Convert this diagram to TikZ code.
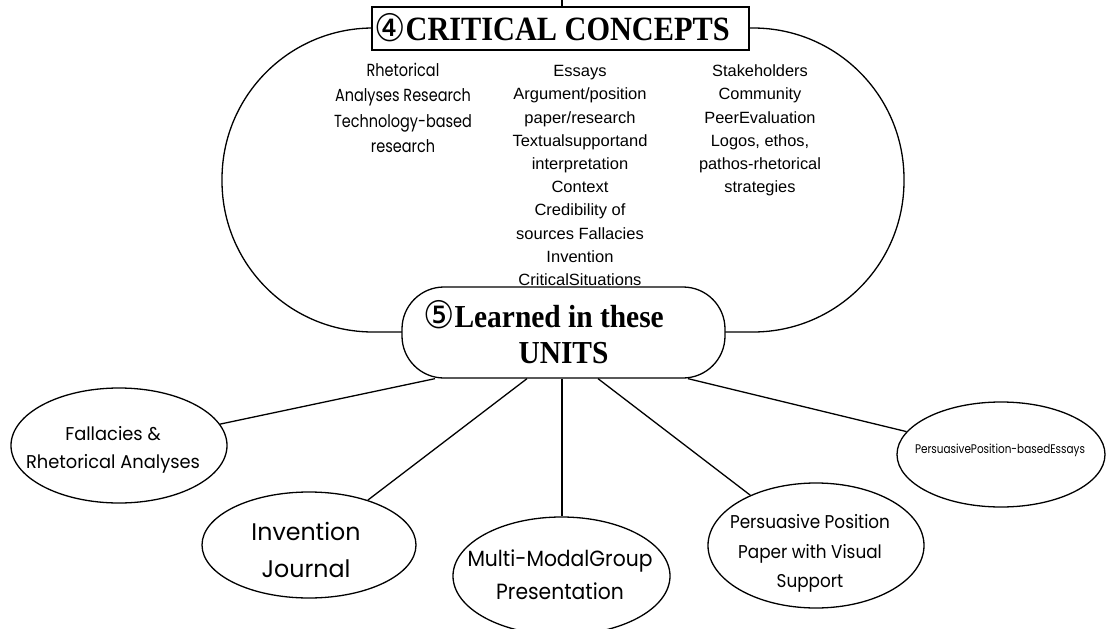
\documentclass[tikz,border=0pt]{standalone}
\usepackage{fontspec}
\usepackage{graphicx}
\usetikzlibrary{shapes.geometric,calc}
\setmainfont{Liberation Serif}
\newfontfamily\arialf{Liberation Sans}
\newfontfamily\comicf{Poppins}
\newfontfamily\dejavuf{DejaVu Sans}
\newcommand{\fitw}[2]{\resizebox{#1}{\height}{\begin{tabular}{@{}c@{}}#2\end{tabular}}}
\newcommand{\circnum}[2]{\raisebox{#2}{\scalebox{0.92}[1]{\dejavuf\mdseries\fontsize{38pt}{38pt}\selectfont #1}}}
\tikzset{
  ln/.style={line width=1.3pt, black},
  ell/.style={ellipse, draw, line width=1.3pt, fill=white, inner sep=0pt},
  txt/.style={inner sep=0pt, outer sep=0pt},
  title/.style={draw, line width=1.3pt, fill=white, inner sep=0pt,
    font=\bfseries\fontsize{34pt}{36pt}\selectfont},
}
\begin{document}
\begin{tikzpicture}[x=1pt,y=-1pt]
\useasboundingbox (0,0) rectangle (1120,629);
% outer stadium
\draw[ln, rounded corners=151pt] (222,28) rectangle (904,332);
% title box
\node[title, minimum width=377pt, minimum height=43pt, text height=24pt, text depth=0pt] (cc) at (560.5,28.5)
  {\circnum{④}{-1pt}\resizebox{324pt}{\height}{CRITICAL CONCEPTS}\hspace*{17pt}};
\coordinate (topend) at (562,0);
\draw[ln] (topend) -- (topend |- cc.north);
% columns
\node[txt, font=\comicf\fontsize{17.5pt}{25pt}\selectfont] (colL) at (403,109.5)
  {\fitw{138pt}{Rhetorical\\Analyses Research\\Technology-based\\research}};
\node[txt, font=\arialf\fontsize{16.3pt}{23.2pt}\selectfont] (colM) at (580,176.5)
  {\fitw{135pt}{Essays\\Argument/position\\paper/research\\Textualsupportand\\interpretation\\Context\\Credibility of\\sources Fallacies\\Invention\\CriticalSituations}};
\node[txt, font=\arialf\fontsize{16.3pt}{23.2pt}\selectfont] (colR) at (760,130)
  {\fitw{122pt}{Stakeholders\\Community\\PeerEvaluation\\Logos, ethos,\\pathos-rhetorical\\strategies}};
% learned node
\node[draw, line width=1.3pt, fill=white, rounded corners=42pt, inner sep=0pt,
  minimum width=323pt, minimum height=91pt, align=center,
  font=\bfseries\fontsize{32pt}{36pt}\selectfont] (learn) at (563.5,332.5)
  {\circnum{⑤}{-1pt}\scalebox{0.92}[1]{Learned in these}\hspace*{40pt}\\\scalebox{0.92}[1]{UNITS}};
% unit ellipses
\node[ell, minimum width=216pt, minimum height=115pt] (fal) at (119,445.5) {};
\node[txt, font=\comicf\fontsize{18.5pt}{28pt}\selectfont] (faltx) at (113,449)
  {\fitw{174pt}{Fallacies \&\\Rhetorical Analyses}};
\node[ell, minimum width=214pt, minimum height=106pt] (inv) at (309,545) {};
\node[txt, font=\comicf\fontsize{24pt}{37pt}\selectfont] (invtx) at (306,551.5)
  {\fitw{109pt}{Invention\\Journal}};
\node[ell, minimum width=217pt, minimum height=118pt] (mul) at (561.5,576) {};
\node[txt, font=\comicf\fontsize{22pt}{33pt}\selectfont] (multx) at (560,576.5)
  {\fitw{185pt}{Multi-ModalGroup\\Presentation}};
\node[ell, minimum width=216pt, minimum height=125pt] (pap) at (816,545.5) {};
\node[txt, font=\comicf\fontsize{18.5pt}{29.5pt}\selectfont] (paptx) at (810,552.5)
  {\fitw{160pt}{Persuasive Position\\Paper with Visual\\Support}};
\node[ell, minimum width=208pt, minimum height=105pt] (ppe) at (1001,454.5) {};
\node[txt, font=\comicf\fontsize{12.5pt}{15pt}\selectfont] (ppetx) at (1000,450)
  {\fitw{170pt}{PersuasivePosition-basedEssays}};
% connectors
\coordinate (b1) at ($(learn.south)+(-128.5,0)$);
\coordinate (b2) at ($(learn.south)+(-36.5,0)$);
\coordinate (b3) at ($(learn.south)+(-1.5,0)$);
\coordinate (b4) at ($(learn.south)+(34.5,0)$);
\coordinate (b5) at ($(learn.south)+(124.5,0)$);
\draw[ln] (b1) -- (fal);
\draw[ln] (b2) -- (inv);
\draw[ln] (b3) -- (b3 |- mul.north);
\draw[ln] (b4) -- (pap);
\draw[ln] (b5) -- (ppe);
\end{tikzpicture}
\end{document}
